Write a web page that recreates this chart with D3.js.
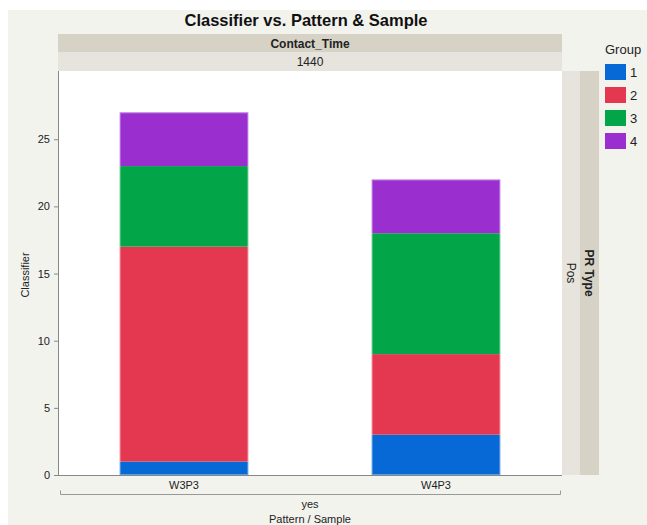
<!DOCTYPE html>
<html><head><meta charset="utf-8">
<script src="https://cdn.jsdelivr.net/npm/d3@7"></script>
<style>
body{margin:0;background:#fff;}
svg{display:block;font-family:"Liberation Sans",Arial,Helvetica,sans-serif;}
</style></head>
<body>
<svg id="c" width="647" height="525"></svg>
<script>
const samples = ["W3P3", "W4P3"];
const groups = ["1", "2", "3", "4"];
const group1 = [1, 3];
const group2 = [16, 6];
const group3 = [6, 9];
const group4 = [4, 4];
const yTicks = [0, 5, 10, 15, 20, 25];
const colors = ["#0669d6", "#e3384f", "#02a547", "#9b2ecf"];

const svg = d3.select("#c");
const W = 647, H = 525;
svg.append("rect").attr("x", 8).attr("y", 10).attr("width", W - 8).attr("height", H - 10).attr("fill", "#f3f3ee");

const pl = 58, pr = 562, pt = 71, pb = 475;

svg.append("text").attr("x", 306).attr("y", 26).attr("text-anchor", "middle")
  .attr("font-size", 16.5).attr("font-weight", "bold").attr("fill", "#111").text("Classifier vs. Pattern & Sample");

// top strips
svg.append("rect").attr("x", pl).attr("y", 34).attr("width", pr - pl).attr("height", 18).attr("fill", "#d6d3c6");
svg.append("rect").attr("x", pl).attr("y", 52).attr("width", pr - pl).attr("height", 19).attr("fill", "#e6e4dc");
svg.append("text").attr("x", (pl + pr) / 2).attr("y", 47.5).attr("text-anchor", "middle")
  .attr("font-size", 12).attr("font-weight", "bold").attr("fill", "#222").text("Contact_Time");
svg.append("text").attr("x", (pl + pr) / 2).attr("y", 66).attr("text-anchor", "middle")
  .attr("font-size", 12).attr("fill", "#222").text("1440");

// right strips
svg.append("rect").attr("x", pr).attr("y", pt).attr("width", 18).attr("height", pb - pt).attr("fill", "#e6e4dc");
svg.append("rect").attr("x", pr + 18).attr("y", pt).attr("width", 19).attr("height", pb - pt).attr("fill", "#d6d3c6");
svg.append("text").attr("transform", `translate(${pr + 5},${(pt + pb) / 2}) rotate(90)`).attr("text-anchor", "middle")
  .attr("font-size", 12).attr("fill", "#222").text("Pos");
svg.append("text").attr("transform", `translate(${pr + 23},${(pt + pb) / 2}) rotate(90)`).attr("text-anchor", "middle")
  .attr("font-size", 12).attr("font-weight", "bold").attr("fill", "#222").text("PR Type");

// plot background
svg.append("rect").attr("x", pl).attr("y", pt).attr("width", pr - pl).attr("height", pb - pt).attr("fill", "#fff");

const x = d3.scaleBand().domain(samples).range([pl, pr]).paddingInner(0.49).paddingOuter(0.245);
const y = d3.scaleLinear().domain([0, 30.08]).range([pb, pt]);

const rows = samples.map((s, i) => ({sample: s, "1": group1[i], "2": group2[i], "3": group3[i], "4": group4[i]}));
const stack = d3.stack().keys(groups)(rows);

svg.append("g").selectAll("g").data(stack).join("g").attr("fill", (d, i) => colors[i])
  .selectAll("rect").data(d => d).join("rect")
  .attr("x", d => x(d.data.sample)).attr("width", x.bandwidth())
  .attr("y", d => y(d[1])).attr("height", d => y(d[0]) - y(d[1]));

// light outline around each whole bar
const totals = samples.map((s, i) => group1[i] + group2[i] + group3[i] + group4[i]);
svg.append("g").selectAll("rect").data(samples).join("rect")
  .attr("x", d => x(d) + 0.5).attr("width", x.bandwidth() - 1)
  .attr("y", (d, i) => y(totals[i]) + 0.5).attr("height", (d, i) => y(0) - y(totals[i]) - 1)
  .attr("fill", "none").attr("stroke", "rgba(255,255,255,0.35)").attr("stroke-width", 1);

// y axis
const ya = svg.append("g").attr("transform", `translate(${pl},0)`)
  .call(d3.axisLeft(y).tickValues(yTicks).tickSize(4).tickPadding(4));
ya.select(".domain").attr("stroke", "#888").attr("d", `M0.5,${pt}V${pb}`);
ya.selectAll(".tick line").attr("stroke", "#888");
ya.selectAll("text").attr("font-size", 11).attr("fill", "#222").attr("font-family", "Liberation Sans, Arial, sans-serif");

// x axis
const xa = svg.append("g").attr("transform", `translate(0,${pb})`)
  .call(d3.axisBottom(x).tickSize(0).tickPadding(6));
xa.select(".domain").attr("stroke", "#888").attr("d", `M${pl},0.5H${pr}`);
xa.selectAll("text").attr("font-size", 11).attr("fill", "#222").attr("font-family", "Liberation Sans, Arial, sans-serif");

// bracket
svg.append("path").attr("d", `M60.5,490.5V494.5H560.5V490.5`).attr("fill", "none").attr("stroke", "#999").attr("stroke-width", 1);
svg.append("text").attr("x", 310).attr("y", 508).attr("text-anchor", "middle").attr("font-size", 11).attr("fill", "#222").text("yes");
svg.append("text").attr("x", 310).attr("y", 523).attr("text-anchor", "middle").attr("font-size", 11).attr("fill", "#222").text("Pattern / Sample");

svg.append("text").attr("transform", `translate(29,${(pt + pb) / 2 + 2}) rotate(-90)`).attr("text-anchor", "middle")
  .attr("font-size", 11).attr("fill", "#222").text("Classifier");

// legend
svg.append("text").attr("x", 605).attr("y", 54).attr("font-size", 13).attr("fill", "#222").text("Group");
const lg = svg.append("g").selectAll("g").data(groups).join("g")
  .attr("transform", (d, i) => `translate(605,${64 + i * 23})`);
lg.append("rect").attr("width", 21).attr("height", 16).attr("fill", (d, i) => colors[i]);
lg.append("text").attr("x", 25).attr("y", 13).attr("font-size", 13).attr("fill", "#222").text(d => d);
</script>
</body></html>
